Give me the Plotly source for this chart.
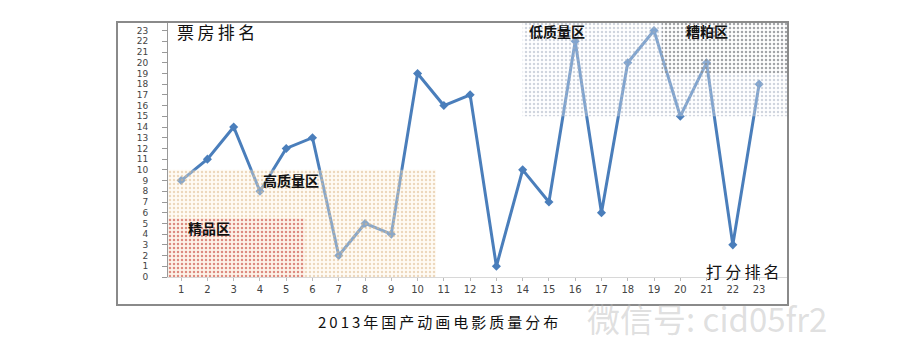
import plotly.graph_objects as go

# ---- data ----
score_rank = list(range(1, 24))  # 打分排名
box_office_rank = [9, 11, 14, 8, 12, 13, 2, 5, 4, 19, 16, 17, 1, 10, 7, 22, 6, 20, 23, 15, 20, 3, 18]

region_names = ["高质量区", "精品区", "低质量区", "糟粕区"]
region_x0 = [0.5, 0.5, 14.0, 19.3]
region_x1 = [10.7, 5.7, 24.1, 24.1]
region_y0 = [0, 0, 15, 19]
region_y1 = [10, 5.5, 23.8, 23.8]

y_ticks = list(range(0, 24))
title_text = "2013年国产动画电影质量分布"
y_title = "票房排名"
x_title = "打分排名"
watermark = "微信号: cid05fr2"

CJK = "Noto Sans CJK SC"
SP = "\u2009"

# page body has an 8px margin; plot area target: x 168..788, y 22..277
OFF = 8
L, R, T = 168 - OFF, 788 - OFF, 22 - OFF
B = 277 - OFF
W, H = 900, 359
PW, PH = R - L, B - T


def px(x):
    return (x - OFF - L) / PW


def py(y):
    return (B - (y - OFF)) / PH


fig = go.Figure()

fig.add_trace(go.Scatter(
    x=score_rank, y=box_office_rank, mode="lines+markers",
    line=dict(color="#4a7ebb", width=3),
    marker=dict(symbol="diamond", size=7, color="#4a7ebb"),
    showlegend=False, hoverinfo="skip",
))

region_styles = [
    dict(fg="#d9b483", bg="rgba(253,243,227,0.35)", size=4, sol=0.3),
    dict(fg="#c83c3c", bg="rgba(250,228,210,0.3)", size=4, sol=0.3),
    dict(fg="#9fa9bb", bg="rgba(255,255,255,0.3)", size=4, sol=0.3),
    dict(fg="#6f6f6f", bg="rgba(255,255,255,0.1)", size=4, sol=0.3),
]
for i, st in enumerate(region_styles):
    x0, x1, y0, y1 = region_x0[i], region_x1[i], region_y0[i], region_y1[i]
    fig.add_trace(go.Scatter(
        x=[x0, x1, x1, x0, x0], y=[y0, y0, y1, y1, y0],
        mode="lines", line=dict(width=0), fill="toself",
        fillcolor=st["bg"],
        fillpattern=dict(shape=".", fgcolor=st["fg"], bgcolor=st["bg"],
                         size=st["size"], solidity=st["sol"]),
        showlegend=False, hoverinfo="skip",
    ))

label_pos = [(5.2, 9.1), (2.05, 4.6), (15.3, 23.0), (21.0, 23.0)]
for name, (lx, ly) in zip(region_names, label_pos):
    fig.add_annotation(x=lx, y=ly, xref="x", yref="y", text="<b>" + name + "</b>",
                       showarrow=False, xanchor="center", yanchor="middle",
                       font=dict(family=CJK, size=14, color="#111"))

fig.add_annotation(x=px(175), y=py(32), xref="paper", yref="paper", text=SP.join(y_title),
                   showarrow=False, xanchor="left", yanchor="middle",
                   font=dict(family=CJK, size=17, color="#111"))
fig.add_annotation(x=px(782), y=py(271), xref="paper", yref="paper", text=SP.join(x_title),
                   showarrow=False, xanchor="right", yanchor="middle",
                   font=dict(family=CJK, size=16, color="#111"))
fig.add_annotation(x=px(316), y=py(321), xref="paper", yref="paper",
                   text=SP.join(title_text), showarrow=False, xanchor="left", yanchor="middle",
                   font=dict(family=CJK, size=15, color="#111"))
fig.add_annotation(x=px(585), y=py(318), xref="paper", yref="paper",
                   text=watermark, showarrow=False, xanchor="left", yanchor="middle",
                   font=dict(family=CJK, size=33, color="rgba(185,185,185,0.45)"))

# outer frame
fig.add_shape(type="rect", xref="paper", yref="paper",
              x0=px(117), x1=1.0, y0=py(305), y1=1.0,
              line=dict(color="#8a8a8a", width=2), fillcolor="rgba(0,0,0,0)", layer="above")

fig.update_layout(
    width=W, height=H,
    margin=dict(l=L, r=W - R, t=T, b=H - B),
    paper_bgcolor="white", plot_bgcolor="white",
    xaxis=dict(range=[0.5, 24.1], tickmode="array", tickvals=score_rank,
               ticktext=[str(v) for v in score_rank], showgrid=False, zeroline=False,
               showline=True, linecolor="#d8d8d8", linewidth=1,
               ticks="outside", ticklen=3, tickcolor="#bbb",
               tickfont=dict(family="DejaVu Sans", size=10, color="#444")),
    yaxis=dict(range=[0, 23.8], tickmode="array", tickvals=y_ticks,
               ticktext=[str(v) for v in y_ticks], showgrid=False, zeroline=False,
               showline=True, linecolor="#999", linewidth=1,
               ticks="outside", ticklen=5, tickcolor="#999",
               ticklabelstandoff=12,
               tickfont=dict(family="DejaVu Sans", size=9, color="#444")),
)

fig.write_html("out.html")
